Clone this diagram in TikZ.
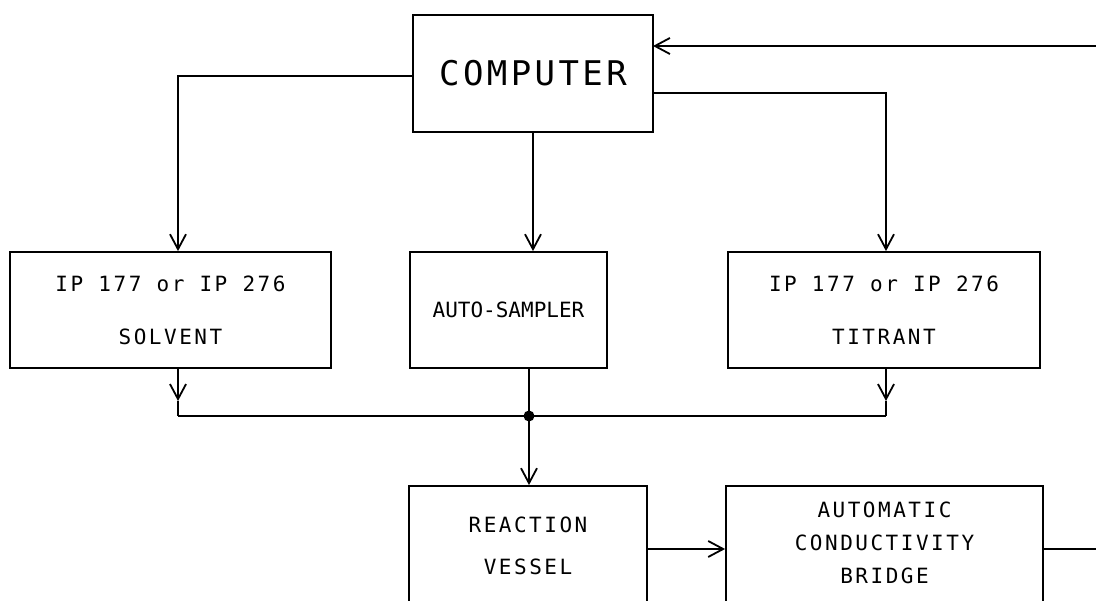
\documentclass[tikz,border=0pt]{standalone}
\usepackage{fontspec}
\usetikzlibrary{arrows.meta}
\newfontfamily\plotfont[LetterSpace=12]{DejaVu Sans Mono}
\newfontfamily\plottight{DejaVu Sans Mono}
\newfontfamily\plotbig[LetterSpace=10]{DejaVu Sans Mono}
\begin{document}
\begin{tikzpicture}[x=1pt,y=-1pt,
  line width=1.8pt,
  arr/.style={-{Straight Barb[length=15pt,width=16pt,line width=1.8pt]}},
  blk/.style={draw,line width=1.8pt,inner sep=0pt,align=center},
  small/.style={font=\plotfont\fontsize{21}{53}\selectfont},
  lbl/.style={align=center,inner sep=0pt},
]
\useasboundingbox (0,0) rectangle (1096,601);
\clip (0,0) rectangle (1096,601);
% boxes
\node[blk,minimum width=240pt,minimum height=117pt,font=\plotbig\fontsize{34}{40}\selectfont] (comp) at (533,73.5) {COMPUTER};
\node[blk,small,minimum width=321pt,minimum height=116pt] (solv) at (170.5,310) {IP 177 or IP 276\\SOLVENT};
\node[blk,font=\plottight\fontsize{21}{40}\selectfont,minimum width=197pt,minimum height=116pt] (auto) at (508.5,310) {AUTO-SAMPLER};
\node[blk,small,minimum width=312pt,minimum height=116pt] (titr) at (884,310) {IP 177 or IP 276\\TITRANT};
\node[blk,minimum width=238pt,minimum height=126pt] (vess) at (528,549) {};
\node[lbl,font=\plotfont\fontsize{21}{42}\selectfont] (vessT) at (528,545.5) {REACTION\\VESSEL};
\node[blk,minimum width=317pt,minimum height=126pt] (brid) at (884.5,549) {};
\node[lbl,font=\plotfont\fontsize{21}{33}\selectfont] (bridT) at (884.5,542.5) {AUTOMATIC\\CONDUCTIVITY\\BRIDGE};
% coordinates
\coordinate (cL) at (413,76);
\coordinate (cR) at (653,93);
\coordinate (fbR) at (1096,46);
\coordinate (fbC) at (653,46);
\coordinate (sA) at (178,401);
\coordinate (sB) at (178,416);
\coordinate (tA) at (886,401);
\coordinate (tB) at (886,416);
\coordinate (junc) at (529,416);
\coordinate (bOut) at (1096,549);
% connectors from computer
\draw[arr] (cL) -| (solv.north -| sA);
\draw[arr] (comp.south) -- (comp.south |- auto.north);
\draw[arr] (cR) -| (titr.north -| tA);
\draw[arr] (fbR) -- (fbC);
% down to bus
\draw[arr] (solv.south -| sA) -- (sA);
\draw (sA) -- (sB);
\draw[arr] (titr.south -| tA) -- (tA);
\draw (tA) -- (tB);
\draw (sB) -- (tB);
\draw (auto.south -| junc) -- (junc);
\fill (junc) circle (5.5pt);
\draw[arr] (junc) -- (junc |- vess.north);
\draw[arr] (vess.east) -- (brid.west);
\draw (brid.east) -- (bOut);
\end{tikzpicture}
\end{document}
